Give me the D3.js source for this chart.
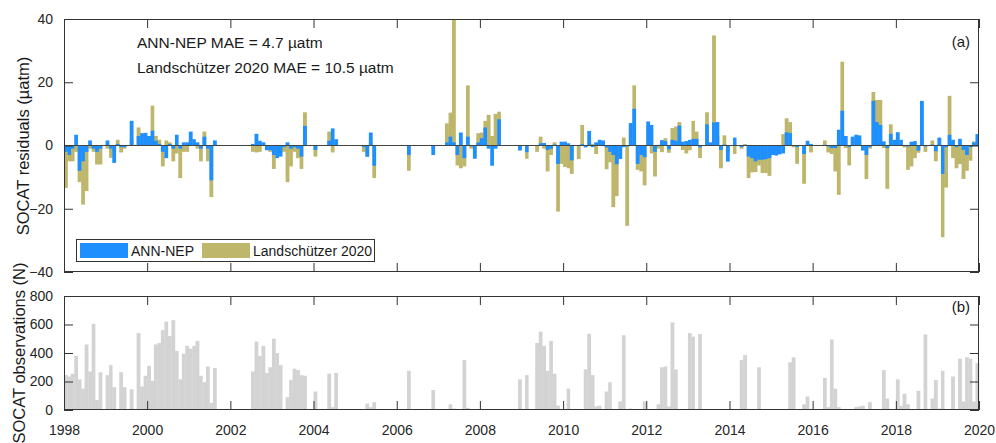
<!DOCTYPE html>
<html>
<head>
<meta charset="utf-8">
<script src="https://cdn.jsdelivr.net/npm/d3@7"></script>
<style>
body { margin: 0; background: #fff; }
svg { display: block; font-family: "Liberation Sans", Arial, sans-serif; }
</style>
</head>
<body>
<svg id="chart" width="996" height="443"></svg>
<script>
// monthly residuals (uatm), Jan 1998 .. Dec 2019, one row per year
var annNep = [
	-2, -3, -1, 3.4, -8, -5, -2, 1.6, -1, -2, -1, null,
	1.6, -1, -5.5, 0.5, -0.5, -0.5, null, 7.8, null, 3, 3.9, 4,
	3, 4.7, 1.5, 0.5, -2, -4, 0.5, -1, 3.4, -1, 1, 1,
	4.4, 2, 1, -1, 2.8, -1, -11, 1.6, null, null, null, null,
	null, null, null, null, null, null, 0.5, 3.7, 1.5, 1, -1.5, -1.5,
	-3, -4, -3.5, -0.5, 1, -1, -0.5, -1, -3.5, 6.2, null, null,
	-1.4, null, null, null, 1.5, 5.4, 2, null, null, null, null, null,
	null, null, -0.5, -3.5, 4.1, -6.4, null, null, null, null, null, null,
	null, null, null, -3, null, null, null, null, null, null, -3, null,
	null, null, 1, 2.8, 1, -3, 4.1, -4, 2.8, -0.3, -4.2, 1,
	2.3, 5.7, -1, -6.4, -1, 8.3, null, null, null, null, null, -1.6,
	null, -2.1, null, null, 0, 0.7, 0.8, -1.4, -1, 0.3, -5.8, 1.2,
	1.2, 0.7, -4.7, null, 0, 0.4, -0.6, 4.6, -0.5, 1, 1.8, 1.6,
	-0.6, -2, -3, -5.9, -4.3, -0.5, -0.3, 7.1, 11.6, -5.8, -3, -3.7,
	7.6, 6.5, -2, 0.2, 1.7, 1.4, -1.2, 1.8, 1.5, 6.3, 1.2, 1.4,
	1.8, 2.1, 2.1, -0.6, null, 6.7, 1, 7.3, 7.4, -1.4, 0.3, -5.1,
	null, 2.5, null, -0.5, 0.2, -3.5, -4, -5, -4.5, -4.5, -4.3, -4,
	-3, -3.2, -2.8, -2.5, 4.2, 3.9, 0, -0.5, null, -2.7, 1.5, 0.5,
	null, null, null, 0.2, -0.3, -0.8, -0.8, 5, 11, 3, -0.5, 2.8,
	3.4, 3.2, -1.6, -3, -0.5, 14.1, 7.4, 6.5, 1.3, -0.8, 3.7, 1.8,
	4.2, 1.8, -0.2, -0.3, 1.2, 1.4, -1.6, 14.1, -0.3, null, 0.3, -1.8,
	2.5, -9, -0.5, 3.4, 1.8, -0.5, 2.1, -1.4, -3, -0.5, 1, 3.6
];
var landschutzer = [
	-13.4, -5, -5, -2, -11.6, -18.7, -14.4, -1, -2, -6, -6, null,
	-1, -3.9, -2, 1.8, -2.2, -1, null, 2, null, 5.7, 2, 3,
	3, 12.6, 3, 1.8, -6.6, 1.6, 1, -5, -2.5, -10.3, -2, -2,
	2, 1, -1, -5, 4.4, -5, -16.3, 0.5, null, null, null, null,
	null, null, null, null, null, null, -2, -2.2, -2, 0.5, -0.5, -2,
	-7.4, -1, -1.5, -2, -11.6, -6.6, -2, -4, -7.4, 10.5, null, null,
	-3.5, null, null, null, 4.4, -2.2, 0.5, null, null, null, null, null,
	null, null, -2, -3.6, 1, -10.3, null, null, null, null, null, null,
	null, null, null, -8, null, null, null, null, null, null, -1, null,
	null, null, 7, 10.4, 42, -6.3, -7.2, -6.6, 19, -1, -3.5, 3.9,
	4.1, 7.8, 9.7, 3, 10, 10.7, null, null, null, null, null, -1,
	null, -4.2, null, null, -2, 2.8, -1, -8.2, -3, 1, -20.9, -5.8,
	-6.8, -7.2, -9, null, -4.3, 6.5, -0.3, 1, 0.5, -2.7, 0.5, 1,
	-7.5, -5.3, -19.5, -16, -3.5, 2.5, -25.4, 6.5, 19, -7.7, -8.2, -12.6,
	6, -2.5, -9.8, -1, -2.1, 2.3, -2.3, 5.5, 6, 7.4, -1.4, -2.5,
	-1.5, 7.8, 4.4, -4, null, 10.5, 0.5, 34.8, 3, -7.2, 3.2, -2,
	null, -2.7, null, -1, 0.4, -10.3, -8.5, -8.4, -6.3, -8.7, -8.7, -9.6,
	-3, -2, -1, 3.6, 8.6, 7.4, -0.6, -5.8, null, -12.1, 0.5, -2.2,
	null, null, null, 1.6, -2.2, -2.7, -8.2, -15.6, 26.5, -0.8, -6.3, 2,
	1, 1.5, -1.2, -10.6, -1, 16.9, 14.4, 14.4, -0.8, -13.7, 6.7, 0.5,
	1, 0.5, -0.6, -7.7, -6.6, -4, -2.3, 2, -2, null, 1.6, -5,
	0.5, -29, -13.3, 15.7, -4, -7.2, -5.9, -10.6, -8, -4.8, 1.3, 0.5
];
// SOCAT observations per month
var socatN = [
	245, 235, 255, 380, 215, 150, 460, 270, 605, 70, 265, 0,
	245, 315, 160, 0, 265, 160, 0, 145, 0, 540, 165, 240,
	310, 205, 460, 470, 560, 620, 520, 630, 415, 215, 395, 450,
	430, 450, 485, 240, 195, 305, 50, 295, 0, 0, 0, 0,
	0, 0, 0, 0, 0, 0, 270, 480, 380, 450, 260, 300,
	500, 400, 315, 5, 90, 210, 290, 280, 245, 240, 0, 0,
	130, 0, 0, 0, 255, 20, 260, 0, 0, 0, 0, 0,
	0, 0, 5, 45, 20, 55, 0, 0, 0, 0, 0, 0,
	0, 0, 0, 275, 0, 0, 0, 0, 0, 0, 140, 0,
	0, 0, 5, 40, 10, 5, 5, 350, 15, 5, 5, 5,
	5, 5, 5, 5, 5, 5, 0, 0, 0, 0, 0, 215,
	0, 245, 0, 0, 470, 550, 450, 275, 485, 255, 30, 5,
	5, 150, 5, 0, 5, 5, 285, 535, 245, 25, 30, 5,
	130, 195, 5, 5, 60, 525, 5, 10, 5, 5, 5, 60,
	5, 5, 5, 40, 300, 305, 25, 615, 285, 5, 5, 5,
	540, 515, 0, 533, 5, 5, 5, 5, 5, 5, 5, 5,
	5, 5, 0, 350, 385, 5, 5, 5, 300, 5, 5, 5,
	5, 5, 5, 5, 5, 335, 370, 0, 0, 40, 95, 5,
	5, 5, 5, 225, 20, 495, 150, 20, 5, 5, 5, 5,
	20, 25, 30, 5, 55, 5, 5, 5, 280, 80, 5, 5,
	215, 30, 115, 40, 5, 5, 135, 5, 530, 5, 80, 210,
	10, 275, 5, 5, 235, 5, 360, 60, 370, 360, 60, 330
];
var xTickYears = [1998, 2000, 2002, 2004, 2006, 2008, 2010, 2012, 2014, 2016, 2018, 2020];
var residTicks = [-40, -20, 0, 20, 40];
var countTicks = [0, 200, 400, 600, 800];
var seriesNames = ["ANN-NEP", "Landschützer 2020"];
var maeText = ["ANN-NEP MAE = 4.7 µatm", "Landschützer 2020 MAE = 10.5 µatm"];

var blue = "#1e8fff", olive = "#bdb66b", grey = "#d3d3d3", axisCol = "#333";
var months = d3.timeMonth.range(new Date(1998, 0, 1), new Date(2020, 0, 1));

var svg = d3.select("#chart");
var left = 64, right = 979;
var x = d3.scaleTime()
	.domain([new Date(1998, 0, 1), new Date(2020, 0, 1)])
	.range([left, right]);
var yRes = d3.scaleLinear().domain([-40, 40]).range([272, 19]);
var yN = d3.scaleLinear().domain([0, 800]).range([410, 296]);
var tickDates = xTickYears.map(function(yy) { return new Date(yy, 0, 1); });

var barX = function(i) { return x(months[i]); };
var barW = function(i) { return x(d3.timeMonth.offset(months[i], 1)) - x(months[i]) + 0.3; };

svg.append("clipPath").attr("id", "clipA")
	.append("rect").attr("x", left).attr("y", 19).attr("width", right - left).attr("height", 253);

// ---- panel (a)
var gA = svg.append("g").attr("clip-path", "url(#clipA)");
var drawRes = function(data, col) {
	var idx = d3.range(data.length).filter(function(i) { return data[i] !== null; });
	gA.append("g").selectAll("rect")
		.data(idx)
		.enter()
		.append("rect")
			.attr("x", barX)
			.attr("width", barW)
			.attr("y", function(i) { return yRes(Math.max(0, data[i])); })
			.attr("height", function(i) { return Math.abs(yRes(data[i]) - yRes(0)); })
			.attr("fill", col);
};
drawRes(landschutzer, olive);
drawRes(annNep, blue);

gA.append("line")
	.attr("x1", left).attr("x2", right)
	.attr("y1", yRes(0)).attr("y2", yRes(0))
	.attr("stroke", "#444").attr("stroke-width", 1);

// ---- panel (b)
svg.append("g").selectAll("rect")
	.data(d3.range(socatN.length).filter(function(i) { return socatN[i] > 0; }))
	.enter()
	.append("rect")
		.attr("x", barX)
		.attr("width", barW)
		.attr("y", function(i) { return yN(socatN[i]); })
		.attr("height", function(i) { return yN(0) - yN(socatN[i]); })
		.attr("fill", grey);

svg.append("line")
	.attr("x1", left).attr("x2", right)
	.attr("y1", yN(0) - 0.5).attr("y2", yN(0) - 0.5)
	.attr("stroke", "#555").attr("stroke-width", 1);

// ---- axes and boxes
var styleAxis = function(g) {
	g.select(".domain").remove();
	g.selectAll(".tick line").attr("stroke", axisCol);
	g.selectAll(".tick text")
		.attr("fill", "#262626")
		.style("font-size", "14px")
		.style("font-family", "'Liberation Sans', Arial, sans-serif");
};
var panel = function(y, top, bottom, ticks, showX) {
	svg.append("g").attr("transform", "translate(0," + bottom + ")")
		.call(d3.axisBottom(x).tickValues(tickDates).tickSize(-9).tickPadding(15)
			.tickFormat(showX ? d3.timeFormat("%Y") : function() { return ""; }))
		.call(styleAxis);
	svg.append("g").attr("transform", "translate(0," + top + ")")
		.call(d3.axisTop(x).tickValues(tickDates).tickSize(-9).tickFormat(function() { return ""; }))
		.call(styleAxis);
	svg.append("g").attr("transform", "translate(" + left + ",0)")
		.call(d3.axisLeft(y).tickValues(ticks).tickSize(-9).tickPadding(11))
		.call(styleAxis);
	svg.append("g").attr("transform", "translate(" + right + ",0)")
		.call(d3.axisRight(y).tickValues(ticks).tickSize(-9).tickFormat(function() { return ""; }))
		.call(styleAxis);
	svg.append("rect")
		.attr("x", left + 0.5).attr("y", top + 0.5)
		.attr("width", right - left - 1).attr("height", bottom - top - 1)
		.attr("fill", "none").attr("stroke", axisCol).attr("stroke-width", 1);
};
panel(yRes, 19, 272, residTicks, false);
panel(yN, 296, 410, countTicks, true);

// ---- texts
var txt = function(s, xx, yy, size, anchor) {
	return svg.append("text")
		.attr("x", xx).attr("y", yy)
		.attr("text-anchor", anchor || "start")
		.style("font-size", size + "px")
		.attr("fill", "#1a1a1a")
		.text(s);
};
txt(maeText[0], 137, 48, 15.5);
txt(maeText[1], 137, 73, 15.5);
txt("(a)", 970, 47, 15, "end");
txt("(b)", 970, 312, 15, "end");

svg.append("text")
	.attr("transform", "translate(29,146) rotate(-90)")
	.attr("text-anchor", "middle")
	.style("font-size", "16.5px")
	.attr("fill", "#1a1a1a")
	.text("SOCAT residuals (µatm)");
svg.append("text")
	.attr("transform", "translate(25,353) rotate(-90)")
	.attr("text-anchor", "middle")
	.style("font-size", "16.5px")
	.attr("fill", "#1a1a1a")
	.text("SOCAT observations (N)");

// ---- legend
var leg = svg.append("g");
leg.append("rect")
	.attr("x", 76.5).attr("y", 239.5).attr("width", 298).attr("height", 22)
	.attr("fill", "#fff").attr("stroke", "#333").attr("stroke-width", 1);
var legItems = [[80, blue, 131], [202, olive, 253]];
legItems.forEach(function(it, k) {
	leg.append("rect").attr("x", it[0]).attr("y", 243).attr("width", 48).attr("height", 15).attr("fill", it[1]);
	txt(seriesNames[k], it[2], 256, 14);
});
</script>
</body>
</html>
